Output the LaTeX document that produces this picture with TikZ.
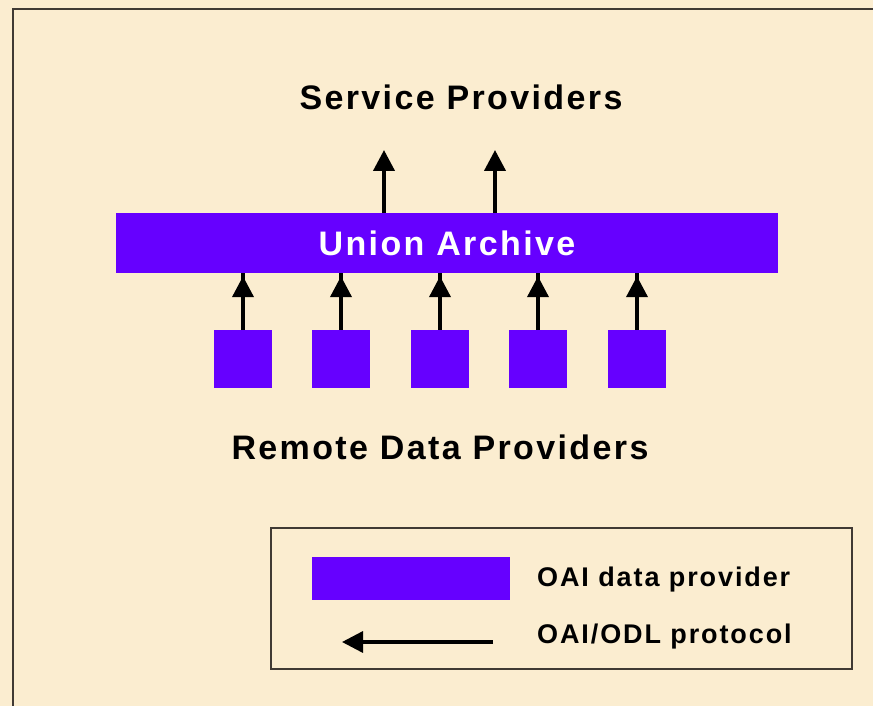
\documentclass[tikz,border=0pt]{standalone}
\usepackage{fontspec}
\setmainfont{Liberation Sans}
\newfontfamily\slidefont[LetterSpace=7]{Liberation Sans}
\usepackage{tikz}
\usetikzlibrary{arrows.meta, positioning}
\definecolor{parchment}{RGB}{251,237,208}
\definecolor{oaiviolet}{RGB}{102,0,255}
\definecolor{framegray}{RGB}{64,58,52}
\tikzset{
    title/.style={font=\slidefont\fontsize{34}{38}\selectfont\bfseries, text=black, inner sep=0pt},
    legendtext/.style={font=\slidefont\fontsize{27}{30}\selectfont\bfseries, text=black, inner sep=0pt, anchor=west},
    archive/.style={rectangle, fill=oaiviolet, minimum width=662pt, minimum height=60pt, inner sep=0pt, text=white, font=\slidefont\fontsize{34}{38}\selectfont\bfseries},
    provider/.style={rectangle, fill=oaiviolet, minimum width=58pt, minimum height=58pt, inner sep=0pt},
    flow/.style={-{Triangle[length=21pt, width=21pt]}, line width=4pt},
    legendflow/.style={-{Triangle[length=21pt, width=21pt]}, line width=3.4pt}
}
\begin{document}
\begin{tikzpicture}[x=1pt, y=-1pt]
    % Background and frame
    \fill[parchment] (0,0) rectangle (873,706);
    \useasboundingbox (0,0) rectangle (873,706);
    \draw[framegray, line width=2pt] (873,9) -- (13,9) -- (13,706);

    % Titles
    \node[title] (service) at (461,97) {Service Providers};
    \node[title] (remote) at (440,447) {Remote Data Providers};

    % Union archive
    \node[archive] (union) at (447,243) {Union Archive};

    % Outgoing harvesting
    \coordinate (out1) at (384,150);
    \coordinate (out2) at (495,150);
    \draw[flow] (union.north -| out1) -- (out1);
    \draw[flow] (union.north -| out2) -- (out2);

    % Data providers
    \foreach \i/\x in {1/243, 2/341, 3/440, 4/538, 5/637} {
        \node[provider] (dp\i) at (\x,359) {};
        \draw[flow] (dp\i.north) -- (dp\i.north |- union.south) ++(0,3);
    }

    % Legend
    \node[draw=framegray, line width=1.5pt, minimum width=581pt, minimum height=141pt, inner sep=0pt] (legend) at (561.5,598.5) {};
    \node[provider, minimum width=198pt, minimum height=43pt] (key) at (411,578.5) {};
    \node[legendtext] (keytext) at (537,580) {OAI data provider};
    \coordinate (arrowstart) at (493,642);
    \coordinate (arrowend) at (342,642);
    \draw[legendflow] (arrowstart) -- (arrowend);
    \node[legendtext] (arrowtext) at (537,637) {OAI/ODL protocol};
\end{tikzpicture}
\end{document}
